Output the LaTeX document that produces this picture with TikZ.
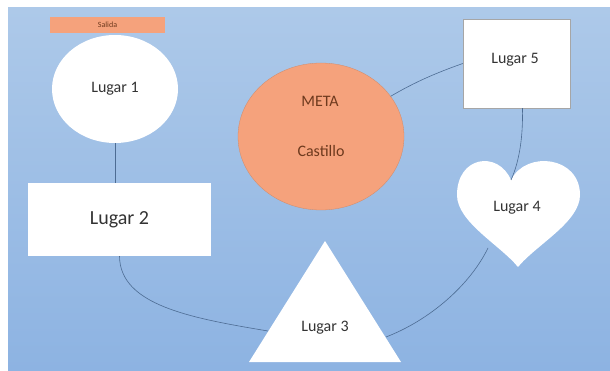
\documentclass[tikz,border=0pt]{standalone}
\usepackage{fontspec}
\setmainfont{Carlito}
\usetikzlibrary{shapes.geometric}
\definecolor{panelTop}{HTML}{ADC9E9}
\definecolor{panelBot}{HTML}{8DB3E2}
\definecolor{salmon}{HTML}{F5A27C}
\definecolor{txt}{HTML}{333333}
\definecolor{metatxt}{HTML}{6E3A1E}
\definecolor{conn}{HTML}{4D6C93}
\tikzset{
  place/.style={fill=white, draw=none, text=txt, font=\fontsize{16}{18}\selectfont},
  lbl/.style={text=txt, font=\fontsize{16}{18}\selectfont, inner sep=0pt},
  link/.style={draw=conn, line width=0.6pt},
}
\begin{document}
\begin{tikzpicture}[x=1pt,y=-1pt]
\useasboundingbox (0,0) rectangle (610,371);
\fill[white] (0,0) rectangle (610,371);
\shade[top color=panelTop, bottom color=panelBot] (8,8) rectangle (610,370);

% Salida
\node[fill=salmon, minimum width=115pt, minimum height=16pt, inner sep=0pt,
      text=metatxt, font=\fontsize{8}{9}\selectfont] (sal) at (107.5,25) {Salida};

% Lugar 1
\node[place, ellipse, minimum width=126pt, minimum height=108pt, inner sep=0pt] (l1) at (115,89) {Lugar 1};

% Lugar 2
\node[place, rectangle, minimum width=183pt, minimum height=73pt, inner sep=0pt,
      font=\fontsize{20}{22}\selectfont] (l2) at (119.5,219.5) {Lugar 2};

% META Castillo
\node[ellipse, fill=salmon, draw=salmon!85!black, line width=0.3pt,
      minimum width=166pt, minimum height=147pt, inner sep=0pt] (meta) at (321,136.5) {};
\node[text=metatxt, font=\fontsize{16}{18}\selectfont, inner sep=0pt] (metaA) at (320,101) {META};
\node[text=metatxt, font=\fontsize{16}{18}\selectfont, inner sep=0pt] (metaB) at (321,151) {Castillo};

% Lugar 5
\node[rectangle, fill=white, draw=gray!70, line width=0.4pt,
      minimum width=107pt, minimum height=89pt, inner sep=0pt] (l5) at (516.5,63.5) {};
\node[lbl] (l5t) at (515,60) {Lugar 5};

% Lugar 4 (heart)
\fill[white] (511,180) .. controls (498,150) and (457,156) .. (457,195)
   .. controls (457,222) and (500,245) .. (518,267)
   .. controls (536,245) and (580,222) .. (580,195)
   .. controls (580,156) and (526,150) .. (511,180) -- cycle;
\coordinate (h4top) at (511,180);
\coordinate (h4sw) at (488,248);
\node[lbl] (l4) at (517,208) {Lugar 4};

% Lugar 3 (triangle)
\fill[white] (325,241) -- (401,362) -- (249,362) -- cycle;
\coordinate (t3l) at (268,331);
\coordinate (t3r) at (386,337);
\node[lbl] (l3) at (325,328) {Lugar 3};

% connectors
\draw[link] (l1.south) -- (l1.south |- l2.north);
\draw[link] (l5.west) .. controls (430,75) and (410,85) .. (meta.30);
\draw[link] ([xshift=6pt]l5.south) .. controls (523,135) and (520,160) .. (h4top);
\draw[link] (l2.south) .. controls (120,305) and (190,318) .. (t3l);
\draw[link] (t3r) .. controls (430,320) and (470,285) .. (h4sw);
\end{tikzpicture}
\end{document}
